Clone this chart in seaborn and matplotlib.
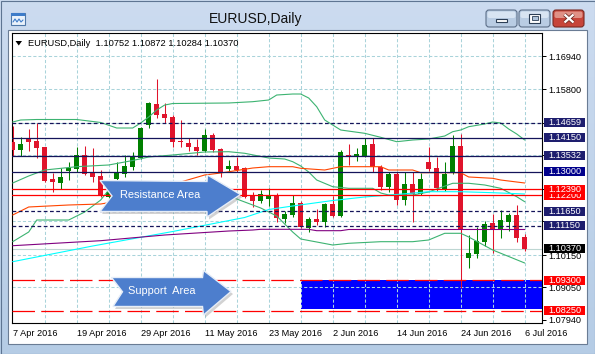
import numpy as np
import pandas as pd
import matplotlib
matplotlib.use("Agg")
import matplotlib.pyplot as plt
import seaborn as sns
from matplotlib.patches import Rectangle, Polygon, FancyBboxPatch
from matplotlib.transforms import blended_transform_factory

sns.set_style("white")
plt.rcParams['font.family'] = ['Liberation Sans', 'DejaVu Sans']

# ---------------- data ----------------
window_title = "EURUSD,Daily"
info_line = "EURUSD,Daily  1.10752 1.10872 1.10284 1.10370"

date_ticks = [0, 8, 16, 24, 32, 40, 48, 56, 64]
date_labels = ["7 Apr 2016", "19 Apr 2016", "29 Apr 2016", "11 May 2016", "23 May 2016",
               "2 Jun 2016", "14 Jun 2016", "24 Jun 2016", "6 Jul 2016"]
price_ticks = [1.16940, 1.15800, 1.14660, 1.13550, 1.12400, 1.11300, 1.10150, 1.09050, 1.07940]
# labels hidden behind the price boxes are left blank
price_tick_labels = ["1.16940", "1.15800", "", "", "", "", "1.10150", "1.09050", "1.07940"]

opens = [1.13991, 1.13735, 1.14127, 1.14052, 1.13827, 1.12746, 1.12620, 1.13029, 1.13104, 1.13554,
         1.12934, 1.12849, 1.12133, 1.12736, 1.12917, 1.13166, 1.13462, 1.14587, 1.15303, 1.14962,
         1.14870, 1.14042, 1.13984, 1.13827, 1.13711, 1.14246, 1.13759, 1.13087, 1.13179, 1.13111,
         1.12201, 1.12013, 1.12054, 1.12177, 1.11383, 1.11519, 1.11918, 1.11086, 1.11383, 1.11290,
         1.11894, 1.11485, 1.13565, 1.13507, 1.13530, 1.13940, 1.13145, 1.12463, 1.12917, 1.12030,
         1.12576, 1.12235, 1.13326, 1.13111, 1.12395, 1.12941, 1.13871, 1.10053, 1.10189, 1.10609,
         1.11236, 1.11042, 1.11290, 1.11519, 1.10752]
highs = [1.14570, 1.14178, 1.14451, 1.14645, 1.13854, 1.12941, 1.13121, 1.13326, 1.13837, 1.13871,
         1.13803, 1.13053, 1.12508, 1.13326, 1.13548, 1.13677, 1.14529, 1.15382, 1.16156, 1.15327,
         1.14928, 1.14758, 1.14161, 1.14110, 1.14461, 1.14298, 1.13793, 1.13411, 1.13507, 1.13155,
         1.12313, 1.12371, 1.12429, 1.12279, 1.11665, 1.12201, 1.12006, 1.11440, 1.11713, 1.11938,
         1.12167, 1.13735, 1.13940, 1.13793, 1.14134, 1.14134, 1.13224, 1.12995, 1.12995, 1.12995,
         1.12995, 1.12961, 1.13827, 1.13507, 1.13336, 1.14246, 1.14281, 1.10837, 1.11120, 1.11325,
         1.11553, 1.11689, 1.11597, 1.11860, 1.10872]
lows = [1.13530, 1.13530, 1.13711, 1.13462, 1.12654, 1.12313, 1.12416, 1.12712, 1.12985, 1.12883,
        1.12654, 1.12133, 1.12064, 1.12678, 1.12815, 1.13053, 1.13428, 1.14475, 1.14826, 1.14645,
        1.13848, 1.13837, 1.13718, 1.13565, 1.13677, 1.13677, 1.12815, 1.12995, 1.12995, 1.12109,
        1.11802, 1.11938, 1.11826, 1.11290, 1.11256, 1.11440, 1.11065, 1.10949, 1.11178, 1.11120,
        1.11440, 1.11440, 1.13224, 1.13370, 1.13507, 1.12995, 1.12371, 1.12313, 1.11860, 1.11860,
        1.11290, 1.12201, 1.13029, 1.12347, 1.12347, 1.12917, 1.09030, 1.09702, 1.10063, 1.10462,
        1.10234, 1.10724, 1.10973, 1.10609, 1.10284]
closes = [1.13735, 1.13940, 1.14018, 1.13820, 1.12688, 1.12644, 1.12804, 1.13111, 1.13554, 1.12917,
          1.12825, 1.12201, 1.12320, 1.12961, 1.13190, 1.13507, 1.14485, 1.15348, 1.14928, 1.14843,
          1.14018, 1.14018, 1.13827, 1.13711, 1.14246, 1.13735, 1.12995, 1.13190, 1.13063, 1.12143,
          1.12006, 1.12235, 1.12201, 1.11406, 1.11553, 1.11918, 1.11099, 1.11372, 1.11290, 1.11894,
          1.11485, 1.13677, 1.13520, 1.13599, 1.13906, 1.13145, 1.12463, 1.12917, 1.12030, 1.12576,
          1.12235, 1.12746, 1.13097, 1.12429, 1.12917, 1.13871, 1.11007, 1.10234, 1.10643, 1.11212,
          1.11052, 1.11348, 1.11519, 1.10745, 1.10370]

# Bollinger bands (upper / middle / lower), read at bar indices
bb_upper_idx = [0, 1, 3, 8, 11, 13, 15, 16, 17, 18, 19, 20, 27, 30, 32, 33, 35, 36, 37, 38, 39, 40,
                41, 44, 46, 48, 50, 52, 54, 55, 56, 57, 59, 60, 61, 62, 63, 64]
bb_upper = [1.14690, 1.14758, 1.14775, 1.14775, 1.14673, 1.14485, 1.14485, 1.14656, 1.14860, 1.15099,
            1.15269, 1.15320, 1.15338, 1.15382, 1.15440, 1.15610, 1.15644, 1.15644, 1.15508, 1.15211,
            1.14758, 1.14587, 1.14417, 1.14304, 1.14168, 1.14018, 1.14076, 1.14110, 1.14212, 1.14359,
            1.14417, 1.14529, 1.14622, 1.14690, 1.14656, 1.14451, 1.14281, 1.14076]
bb_mid_idx = [0, 2, 4, 8, 12, 15, 17, 20, 24, 27, 29, 32, 34, 35, 36, 37, 38, 40, 42, 45, 46, 47,
              50, 52, 53, 55, 57, 59, 61, 63, 64]
bb_mid = [1.12610, 1.12849, 1.13053, 1.13166, 1.13224, 1.13377, 1.13496, 1.13565, 1.13667, 1.13677,
          1.13623, 1.13462, 1.13428, 1.13336, 1.13190, 1.12985, 1.12712, 1.12484, 1.12429, 1.12429,
          1.12269, 1.12201, 1.12201, 1.12303, 1.12405, 1.12600, 1.12600, 1.12542, 1.12429, 1.12143,
          1.11972]
bb_lower_idx = [0, 2, 3, 7, 9, 11, 12, 14, 20, 25, 27, 31, 33, 35, 36, 40, 42, 46, 50, 52, 54, 56,
                57, 60, 64]
bb_lower = [1.10609, 1.10939, 1.11348, 1.11348, 1.11621, 1.12030, 1.12371, 1.12508, 1.12610, 1.12508,
            1.12167, 1.11758, 1.11485, 1.10939, 1.10701, 1.10496, 1.10554, 1.10609, 1.10609, 1.10667,
            1.10895, 1.10895, 1.10769, 1.10326, 1.09882]
# moving averages
ma_orange_idx = [0, 2, 7, 11, 14, 18, 21, 24, 26, 30, 32, 35, 36, 39, 41, 46, 47, 50, 51, 56, 57,
                 60, 61, 64]
ma_orange = [1.11519, 1.11792, 1.11860, 1.11894, 1.12030, 1.12303, 1.12644, 1.12883, 1.12951, 1.13121,
             1.13166, 1.13166, 1.13111, 1.13053, 1.13166, 1.13166, 1.13053, 1.13053, 1.12961, 1.12961,
             1.12815, 1.12770, 1.12712, 1.12610]
ma_cyan_idx = [0, 10, 20, 29, 32, 35, 40, 44, 48, 52, 56, 60, 64]
ma_cyan = [1.09927, 1.10462, 1.10956, 1.11434, 1.11706, 1.11826, 1.12013, 1.12133, 1.12218, 1.12313,
           1.12313, 1.12279, 1.12235]
ma_purple_idx = [0, 11, 19, 27, 30, 31, 37, 38, 41, 42, 64]
ma_purple = [1.10472, 1.10643, 1.10837, 1.10973, 1.11007, 1.11031, 1.11031, 1.10984, 1.10984, 1.11025,
             1.11025]

# horizontal objects
navy_dashed = [1.14659, 1.11650, 1.11150]
navy_solid = [1.14150, 1.13532, 1.13000]
red_solid = [1.12390, 1.12200]
red_dashed = [1.09300, 1.08250]
last_price = 1.10370
support_zone = (36, 1.08300, 1.09300)   # start bar, low, high
price_boxes = [(1.14659, '#1E1E6E'), (1.14150, '#1E1E6E'), (1.13532, '#1E1E6E'),
               (1.13000, '#00008B'), (1.12200, '#FF0000'), (1.12390, '#FF0000'),
               (1.11650, '#1E1E6E'), (1.11150, '#1E1E6E'), (1.10370, '#000000'),
               (1.09300, '#FF0000'), (1.08250, '#FF0000')]
arrow_texts = ["Resistance Area", "Support  Area"]

# ---------------- figure ----------------
W, H = 595, 354
fig = plt.figure(figsize=(W / 100, H / 100), dpi=100)

# window chrome (pixel coordinates)
bg = fig.add_axes([0, 0, 1, 1], zorder=0)
bg.set_xlim(0, W); bg.set_ylim(H, 0); bg.axis('off')
c1 = np.array([0.80, 0.86, 0.94]); c2 = np.array([0.71, 0.80, 0.90])
t = np.linspace(0, 1, H)[:, None, None]
img = c1 * (1 - t) + c2 * t
img = np.repeat(img, 4, axis=1)
bg.imshow(img, extent=[0, W, H, 0], aspect='auto', zorder=0)
bg.add_patch(Rectangle((0.5, 0.5), W - 1, H - 1, fill=False, edgecolor='#5E7592', lw=0.8, zorder=1))
bg.add_patch(Rectangle((8, 30), 579, 314, facecolor='white', edgecolor='#6A7C94', lw=0.8, zorder=2))
bg.text(256, 19.5, window_title, fontsize=10, ha='center', va='center', color='#111111', zorder=3)
# app icon
bg.add_patch(Rectangle((11, 13), 14, 12, facecolor='#EAF2FB', edgecolor='#4F78A8', lw=0.8, zorder=3))
bg.add_patch(Rectangle((11, 13), 14, 3, facecolor='#3E7CC9', lw=0, zorder=3))
bg.plot([13, 15, 17, 19, 21, 23], [22, 19, 22, 19, 22, 20], color='#3E7CC9', lw=0.8, zorder=4)
# buttons
for bx, face, top in [(486, '#B9CCE3', '#DCE7F4'), (519, '#B9CCE3', '#DCE7F4'), (553, '#C7453A', '#E39A8F')]:
    bg.add_patch(FancyBboxPatch((bx, 10), 31, 17, boxstyle="round,pad=0,rounding_size=3",
                                facecolor=face, edgecolor='#5D6F88' if bx < 553 else '#7A2A22',
                                lw=0.8, zorder=3))
    bg.add_patch(FancyBboxPatch((bx + 1.5, 11.5), 28, 6.5, boxstyle="round,pad=0,rounding_size=2",
                                facecolor=top, lw=0, zorder=3.5, alpha=0.9))
bg.add_patch(Rectangle((496, 19), 11, 3, facecolor='white', edgecolor='#2C3E55', lw=0.8, zorder=4))
bg.add_patch(Rectangle((529, 13.5), 11, 9, facecolor='white', edgecolor='#2C3E55', lw=0.8, zorder=4))
bg.add_patch(Rectangle((531.5, 16), 6, 4, facecolor='#AFC3DA', edgecolor='#2C3E55', lw=0.6, zorder=4.5))
for lw_, col in [(2.8, '#6E2A22'), (1.6, 'white')]:
    bg.plot([564.5, 573.5], [14.5, 22.5], color=col, lw=lw_, solid_capstyle='butt', zorder=5)
    bg.plot([564.5, 573.5], [22.5, 14.5], color=col, lw=lw_, solid_capstyle='butt', zorder=5)

# chart axes
ax = fig.add_axes([12 / W, 1 - 323 / H, 530 / W, 290 / H], zorder=1)
ax.set_facecolor('white')
ax.set_xlim(-0.0875, 66.1625)
ax.set_ylim(1.078366, 1.177242)

# support zone rectangle
sz0, szl, szh = support_zone
ax.add_patch(Rectangle((sz0, szl), 40, szh - szl, facecolor='#0000FF', lw=0, zorder=1))

# grid
grid_kw = dict(color='#A9D3DA', lw=0.75, ls=(0, (3, 2)), zorder=2)
for gx in range(4, 66, 4):
    ax.axvline(gx, **grid_kw)
for gy in price_ticks[:-1]:
    ax.axhline(gy, **grid_kw)

# current price line
ax.axhline(last_price, color='#BDD6D2', lw=0.8, zorder=2.5)

# candles
o = np.array(opens); h = np.array(highs); l = np.array(lows); c = np.array(closes)
idx = np.arange(len(o))
cols = np.where(c >= o, '#008000', '#E0142C')
ax.vlines(idx, l, h, colors=cols, lw=0.75, zorder=3)
ax.bar(idx, np.maximum(np.abs(c - o), 0.0004), bottom=np.minimum(o, c), width=0.6,
       color=cols, lw=0, zorder=3.5)

# indicators
for xs, ys, col in [(bb_upper_idx, bb_upper, '#3CB371'), (bb_mid_idx, bb_mid, '#3CB371'),
                    (bb_lower_idx, bb_lower, '#3CB371'), (ma_orange_idx, ma_orange, '#FF4500'),
                    (ma_cyan_idx, ma_cyan, '#00FFFF'), (ma_purple_idx, ma_purple, '#800080')]:
    sns.lineplot(x=xs, y=ys, ax=ax, color=col, lw=0.8, sort=False, estimator=None,
                 legend=False, zorder=4)

# horizontal lines
for v in navy_dashed:
    ax.axhline(v, color='#14145A', lw=0.9, ls=(0, (3, 2)), zorder=5)
for v in navy_solid:
    ax.axhline(v, color='#14145A', lw=0.9, zorder=5)
for v in red_solid:
    ax.axhline(v, color='#FF0000', lw=0.9, zorder=5)
for v in red_dashed:
    ax.axhline(v, color='#FF0000', lw=0.9, ls=(0, (18, 5)), zorder=5)

# axes styling
ax.yaxis.tick_right()
ax.set_yticks(price_ticks)
ax.set_yticklabels(price_tick_labels)
ax.set_xticks(date_ticks)
ax.set_xticklabels(date_labels)
for lab in ax.get_xticklabels():
    lab.set_ha('left')
ax.tick_params(axis='both', length=2.9, width=0.72, pad=1.5, labelsize=6.6, colors='black',
               direction='out')
ax.set_xlabel(''); ax.set_ylabel('')
for sp in ax.spines.values():
    sp.set_color('black'); sp.set_linewidth(0.8); sp.set_visible(True)

# price label boxes on the right axis (each later box covers the earlier ones)
tr = blended_transform_factory(ax.transAxes, ax.transData)
hh = 4.5 / 2933.0
for k, (v, bcol) in enumerate(price_boxes):
    ax.add_patch(Rectangle((532 / 530, v - hh), 41 / 530, 2 * hh, transform=tr, facecolor=bcol,
                           lw=0, clip_on=False, zorder=6 + 2 * k))
    ax.text(536 / 530, v, f"{v:.5f}", transform=tr, color='white', fontsize=6.6, ha='left',
            va='center', clip_on=False, zorder=7 + 2 * k)

# overlay (arrows, info line)
ov = fig.add_axes([0, 0, 1, 1], zorder=10)
ov.set_xlim(0, W); ov.set_ylim(H, 0); ov.axis('off'); ov.patch.set_alpha(0)
ov.add_patch(Polygon([(15.5, 41), (22, 41), (18.75, 45.5)], closed=True, facecolor='black', lw=0))
ov.text(28, 43.5, info_line, fontsize=6.7, ha='left', va='center', color='black')

res_arrow = [(100, 180.5), (207, 181.5), (207.5, 175), (240.5, 194.5), (207, 217), (207, 211.5),
             (100, 211.5), (112, 196)]
sup_arrow = [(111.5, 277.5), (202.5, 277.5), (203.5, 270.5), (231, 291.5), (203.5, 315),
             (202.5, 306.5), (113, 306.5), (122.5, 291.8)]
for pts, txt, tx, ty in [(res_arrow, arrow_texts[0], 160.5, 194.5), (sup_arrow, arrow_texts[1], 161.5, 291.5)]:
    shadow = [(px + 2, py + 2.5) for px, py in pts]
    ov.add_patch(Polygon(shadow, closed=True, facecolor='#7F7F7F', alpha=0.35, lw=0))
    ov.add_patch(Polygon(pts, closed=True, facecolor='#4D7ECD', edgecolor='#E6EDF7', lw=1.0))
    ov.text(tx, ty, txt, fontsize=7.9, color='white', ha='center', va='center')

fig.savefig('out.png', dpi=100)
